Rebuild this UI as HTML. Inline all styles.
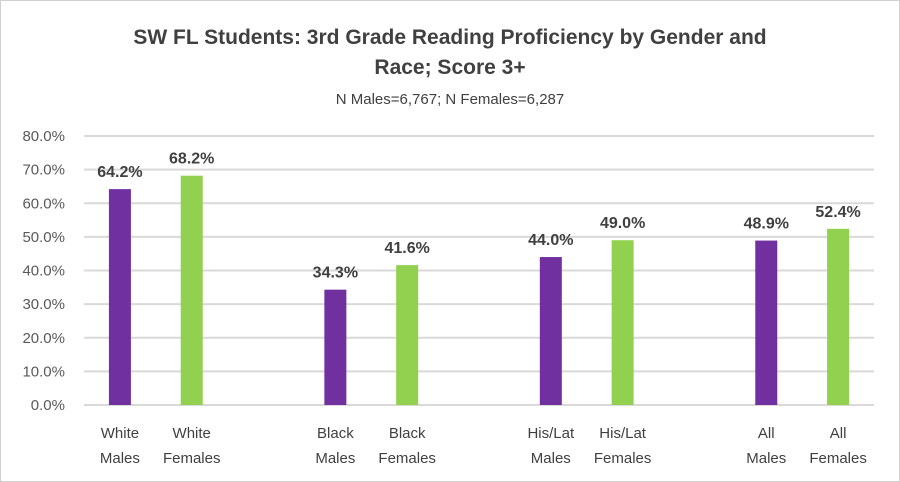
<!DOCTYPE html>
<html><head><meta charset="utf-8"><style>
body{margin:0;background:#fff;}
svg{display:block;font-family:"Liberation Sans",sans-serif;}
</style></head><body>
<svg width="900" height="482" viewBox="0 0 900 482">
<rect x="0.5" y="0.5" width="899" height="481" fill="#fff" stroke="#d0d0d0"/>
<text x="450" y="44" text-anchor="middle" font-size="21" font-weight="bold" fill="#404040">SW FL Students:  3rd Grade Reading Proficiency by Gender and</text>
<text x="450" y="74" text-anchor="middle" font-size="21" font-weight="bold" fill="#404040">Race; Score 3+</text>
<text x="450" y="104" text-anchor="middle" font-size="15" fill="#404040">N Males=6,767; N Females=6,287</text>
<g id="grid"></g><g id="bars"></g>
</svg>
<script>
const categories=[["White","Males"],["White","Females"],null,["Black","Males"],["Black","Females"],null,["His/Lat","Males"],["His/Lat","Females"],null,["All","Males"],["All","Females"]];
const values=[64.2,68.2,null,34.3,41.6,null,44.0,49.0,null,48.9,52.4];
const valueLabels=["64.2%","68.2%",null,"34.3%","41.6%",null,"44.0%","49.0%",null,"48.9%","52.4%"];
const yTicks=[0,10,20,30,40,50,60,70,80];
const NS="http://www.w3.org/2000/svg";
const L=84,R=874,Y0=405,Y1=136,YMAX=80;
const y=v=>Y0-(v/YMAX)*(Y0-Y1);
const slot=(R-L)/categories.length;
const x=i=>L+slot*(i+0.5);
function mk(t,a,p){const e=document.createElementNS(NS,t);for(const k in a)e.setAttribute(k,a[k]);p.appendChild(e);return e;}
const g=document.getElementById('grid'),b=document.getElementById('bars');
yTicks.forEach(t=>{
 const ln=mk('line',{x1:L,x2:R,y1:y(t),y2:y(t),stroke:'#d9d9d9','stroke-width':2},g);
 
 
 const tx=mk('text',{x:65,y:y(t)+5,'text-anchor':'end','font-size':15,fill:'#595959'},g);
 tx.textContent=t.toFixed(1)+'%';
 
 
});
categories.forEach((c,i)=>{
 if(!c)return;
 const v=values[i],col=c[1]==='Males'?'#7030a0':'#92d050';
 const r=mk('rect',{x:x(i)-11,y:y(v),width:22,height:Y0-y(v),fill:col},b);
 
 
 const vl=mk('text',{x:x(i),y:y(v)-12,'text-anchor':'middle','font-size':16,'font-weight':'bold',fill:'#404040'},b);
 vl.textContent=valueLabels[i];
 
 
 c.forEach((s,k)=>{
  const t=mk('text',{x:x(i),y:438+k*25,'text-anchor':'middle','font-size':15,fill:'#404040'},b);
  t.textContent=s;
  
  
 });
});
</script>
</body></html>
